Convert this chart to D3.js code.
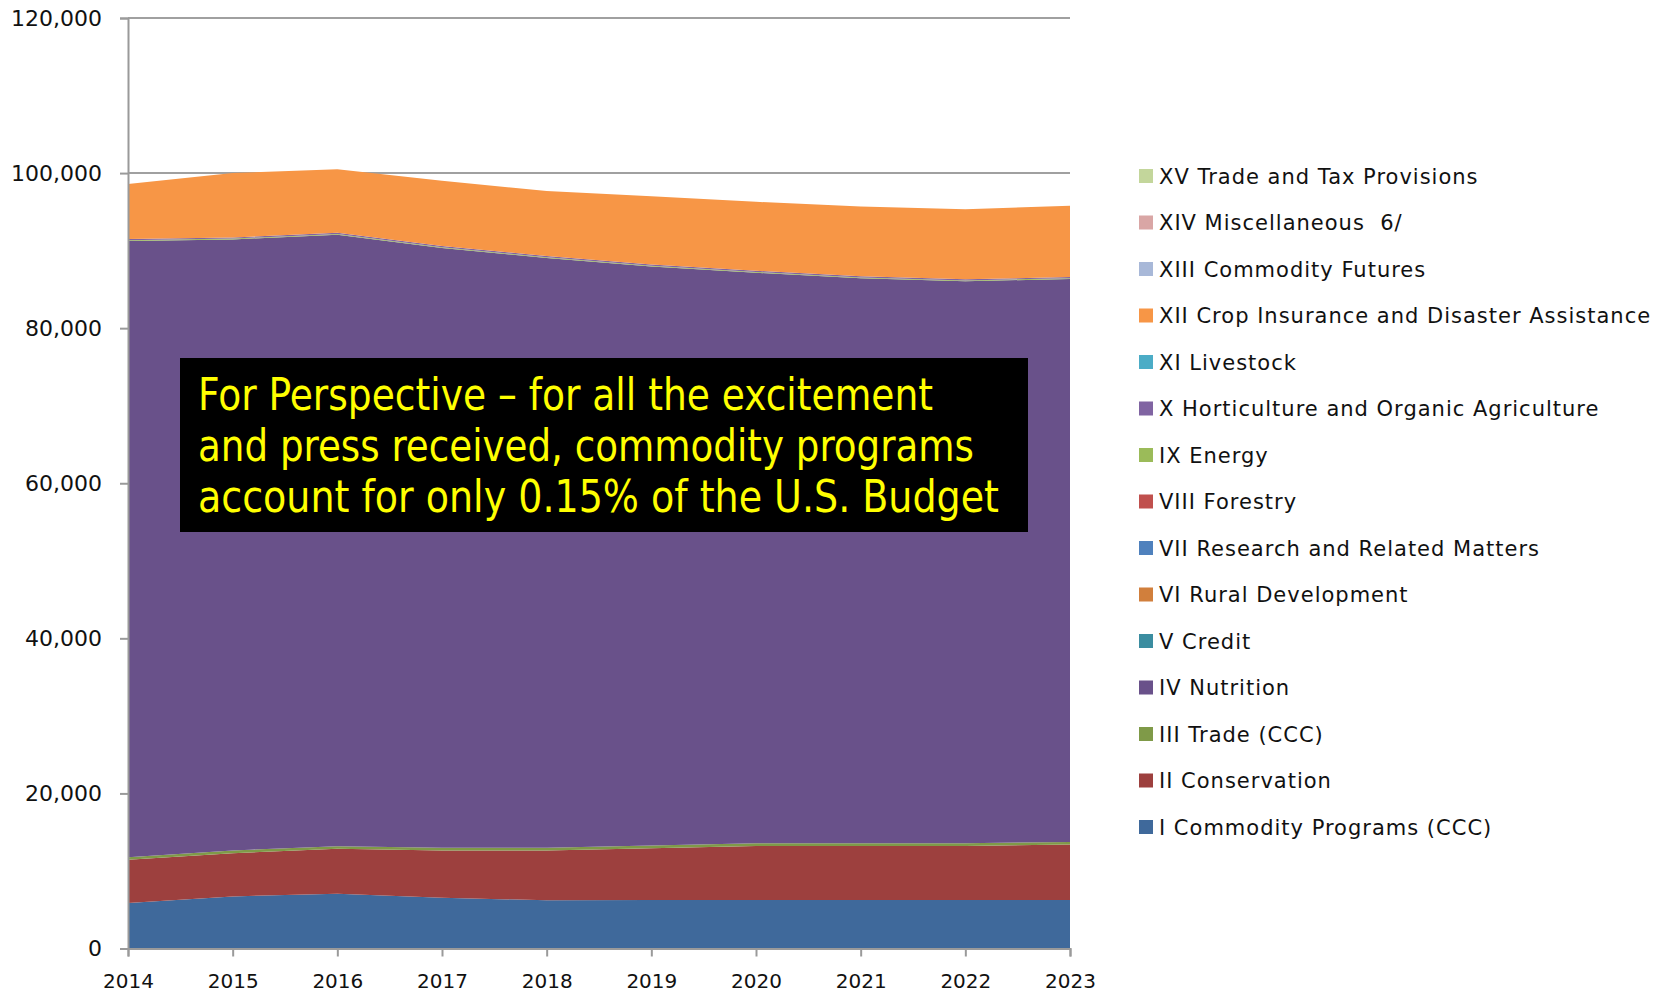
<!DOCTYPE html>
<html>
<head>
<meta charset="utf-8">
<script src="https://cdn.jsdelivr.net/npm/d3@7"></script>
<style>
  body { margin: 0; background: #fff; }
  svg { display: block; font-family: "DejaVu Sans", Verdana, sans-serif; }
</style>
</head>
<body>
<svg id="chart" width="1671" height="993"></svg>
<script>
// fiscal years
const years = [2014, 2015, 2016, 2017, 2018, 2019, 2020, 2021, 2022, 2023];

// outlays by title, $ millions
const commodity    = [5870, 6720, 7070, 6550, 6210, 6250, 6250, 6250, 6250, 6250];
const conservation = [5560, 5570, 5780, 6080, 6420, 6680, 6980, 6980, 6980, 7150];
const tradeCCC     = [350, 350, 350, 350, 350, 350, 350, 350, 350, 350];
const nutrition    = [79470, 78810, 78850, 77370, 76070, 74670, 73570, 72870, 72470, 72600];
const credit       = [0, 0, 0, 0, 0, 0, 0, 0, 0, 0];
const ruralDev     = [0, 0, 0, 0, 0, 0, 0, 0, 0, 0];
const research     = [0, 0, 0, 0, 0, 0, 0, 0, 0, 0];
const forestry     = [0, 0, 0, 0, 0, 0, 0, 0, 0, 0];
const energy       = [100, 100, 100, 100, 100, 100, 100, 100, 100, 100];
const horticulture = [150, 150, 150, 150, 150, 150, 150, 150, 150, 150];
const livestock    = [0, 0, 0, 0, 0, 0, 0, 0, 0, 0];
const cropIns      = [7100, 8300, 8200, 8400, 8400, 8800, 8900, 9000, 9050, 9200];
const futures      = [0, 0, 0, 0, 0, 0, 0, 0, 0, 0];
const misc         = [0, 0, 0, 0, 0, 0, 0, 0, 0, 0];
const tradeTax     = [0, 0, 0, 0, 0, 0, 0, 0, 0, 0];

const seriesNames = [
  "I Commodity Programs (CCC)", "II Conservation", "III Trade (CCC)", "IV Nutrition",
  "V Credit", "VI Rural Development", "VII Research and Related Matters", "VIII Forestry",
  "IX Energy", "X Horticulture and Organic Agriculture", "XI Livestock",
  "XII Crop Insurance and Disaster Assistance", "XIII Commodity Futures",
  "XIV Miscellaneous  6/", "XV Trade and Tax Provisions"
];
const seriesValues = [commodity, conservation, tradeCCC, nutrition, credit, ruralDev, research,
  forestry, energy, horticulture, livestock, cropIns, futures, misc, tradeTax];
const colors = ["#3f699b", "#9d403e", "#7f9a48", "#69518a", "#3b8da0", "#d17f3c", "#4f81bd",
  "#c0504d", "#9bbb59", "#8064a2", "#4bacc6", "#f79646", "#a8b8d8", "#d9a6a5", "#c3d69b"];

const yTicks = [0, 20000, 40000, 60000, 80000, 100000, 120000];

const noteLines = [
  "For Perspective \u2013 for all the excitement",
  "and press received, commodity programs",
  "account for only 0.15% of the U.S. Budget"
];

// build table for d3.stack
const table = years.map(function(yr, i) {
  var row = { year: yr };
  seriesNames.forEach(function(n, k) { row[n] = seriesValues[k][i]; });
  return row;
});

const svg = d3.select("#chart");
const margin = { top: 18, left: 128 };
const width = 942, height = 930.5;

const g = svg.append("g").attr("transform", "translate(" + margin.left + "," + margin.top + ")");

const x = d3.scaleLinear().domain([2014, 2023]).range([0, width]);
const y = d3.scaleLinear().domain([0, 120000]).range([height, 0]);

// gridlines
g.append("g").selectAll("line").data(yTicks.slice(1)).join("line")
    .attr("x1", 0).attr("x2", width)
    .attr("y1", function(d) { return y(d); }).attr("y2", function(d) { return y(d); })
    .attr("stroke", "#a0a0a0").attr("stroke-width", 2);

const stack = d3.stack().keys(seriesNames);
const layers = stack(table);

const area = d3.area()
    .x(function(d) { return x(d.data.year); })
    .y0(function(d) { return y(d[0]); })
    .y1(function(d) { return y(d[1]); });

g.append("g").selectAll("path").data(layers).join("path")
    .attr("fill", function(d, i) { return colors[i]; })
    .attr("d", area);

// axes
const yAxis = g.append("g")
    .call(d3.axisLeft(y).tickValues(yTicks).tickSize(8).tickPadding(18).tickFormat(d3.format(",")));
const xAxis = g.append("g")
    .attr("transform", "translate(0," + height + ")")
    .call(d3.axisBottom(x).tickValues(years).tickSize(8).tickPadding(17).tickFormat(d3.format("d")));

[yAxis, xAxis].forEach(function(a) {
  a.select(".domain").attr("stroke", "#9a9a9a").attr("stroke-width", 2);
  a.selectAll(".tick line").attr("stroke", "#9a9a9a").attr("stroke-width", 2);
  a.selectAll("text").attr("fill", "#111")
      .attr("font-family", "DejaVu Sans, Verdana, sans-serif");
});
yAxis.selectAll("text").attr("font-size", 22);
xAxis.selectAll("text").attr("font-size", 20);

// legend (top item is the last series)
const legend = svg.append("g").attr("transform", "translate(1139,176)");
const legendItems = legend.selectAll("g").data(seriesNames.slice().reverse()).join("g")
    .attr("transform", function(d, i) { return "translate(0," + (i * 46.5) + ")"; });
legendItems.append("rect")
    .attr("x", 0).attr("y", -7).attr("width", 14).attr("height", 14)
    .attr("fill", function(d) { return colors[seriesNames.indexOf(d)]; });
legendItems.append("text")
    .attr("x", 20).attr("dy", "0.36em")
    .attr("font-size", 21).attr("letter-spacing", 1).attr("fill", "#111")
    .attr("xml:space", "preserve")
    .text(function(d) { return d; });

// annotation box
const note = svg.append("g");
note.append("rect")
    .attr("x", 180).attr("y", 358).attr("width", 848).attr("height", 174)
    .attr("fill", "#000");
const noteWidths = [735, 776, 801];
note.selectAll("text").data(noteLines).join("text")
    .attr("x", 198)
    .attr("y", function(d, i) { return 410 + i * 51; })
    .attr("fill", "#ffff00")
    .attr("font-size", 44)
    .attr("font-family", "DejaVu Sans Condensed, DejaVu Sans, sans-serif")
    .attr("textLength", function(d, i) { return noteWidths[i]; })
    .attr("lengthAdjust", "spacingAndGlyphs")
    .text(function(d) { return d; });
</script>
</body>
</html>
